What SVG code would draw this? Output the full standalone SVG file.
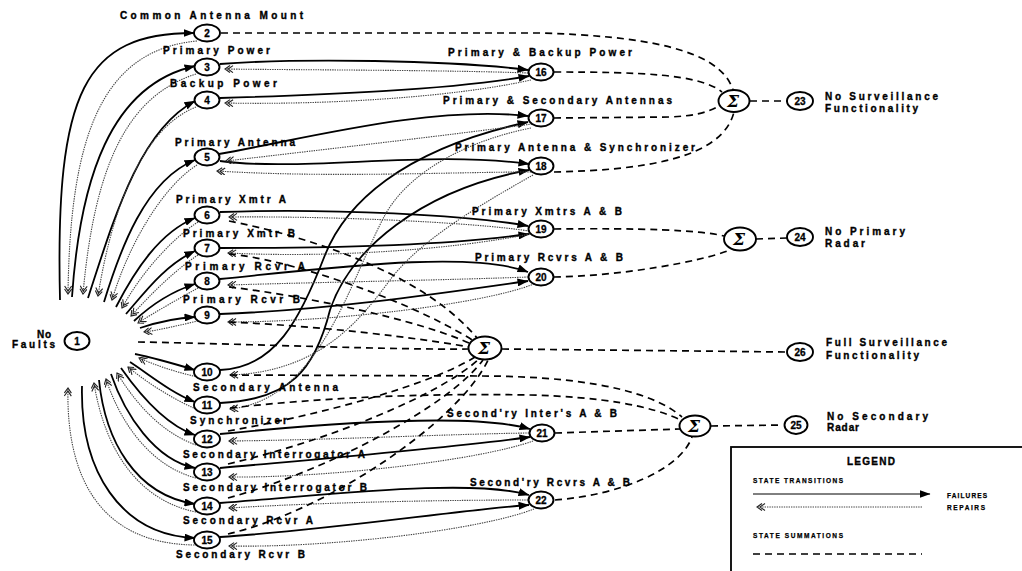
<svg xmlns="http://www.w3.org/2000/svg" width="1022" height="571" viewBox="0 0 1022 571">
  <style>
    .f { fill: none; stroke: #000; stroke-width: 1.8; marker-end: url(#fail); }
    .r { fill: none; stroke: #444; stroke-width: 1.1; stroke-dasharray: 1.4 1; marker-end: url(#repair); }
    .s { fill: none; stroke: #000; stroke-width: 1.7; stroke-dasharray: 7 5; }
    .node ellipse { fill: #fff; stroke: #000; stroke-width: 1.9; }
    .num { font-family: "Liberation Sans", Arial, sans-serif; font-weight: bold; font-size: 10px; text-anchor: middle; stroke: #000; stroke-width: 0.3; }
    .lbl { font-family: "Liberation Sans", Arial, sans-serif; font-weight: bold; font-size: 10px; stroke: #000; stroke-width: 0.35; }
    .sig { font-family: "DejaVu Serif", serif; font-weight: bold; font-style: italic; font-size: 17px; text-anchor: middle; }
    .leg { font-family: "Liberation Sans", Arial, sans-serif; font-weight: bold; font-size: 6.5px; stroke: #000; stroke-width: 0.25; }
  </style>
  <defs>
    <marker id="fail" markerUnits="userSpaceOnUse" markerWidth="11" markerHeight="8" refX="10.5" refY="4" orient="auto" viewBox="0 0 11 8">
      <path d="M0,0 L11,4 L0,8 Z" fill="#000"/>
    </marker>
    <marker id="repair" markerUnits="userSpaceOnUse" markerWidth="10" markerHeight="8" refX="9" refY="4" orient="auto" viewBox="0 0 10 8">
      <path d="M4,0.5 L9,4 L4,7.5 M1,0.5 L6,4 L1,7.5" fill="none" stroke="#222" stroke-width="1.1"/>
    </marker>
  </defs>
  <rect width="1022" height="571" fill="#fff"/>

  <!-- connectors: failures (solid), repairs (dotted), state summations (dashed) -->
  <g id="connectors">
    <g id="failures">
      <path class="f" d="M60,300 C55,90 85,33 194,33"/>
      <path class="f" d="M72,297 C80,180 110,85 195,66"/>
      <path class="f" d="M88,298 C115,215 140,130 195,101"/>
      <path class="f" d="M104,302 C120,250 145,180 195,160"/>
      <path class="f" d="M116,307 C135,270 160,232 195,218"/>
      <path class="f" d="M126,314 C145,292 165,265 195,251"/>
      <path class="f" d="M134,321 C150,306 170,292 195,284"/>
      <path class="f" d="M140,328 C155,323 175,318 195,317"/>
      <path class="f" d="M135,354 C155,358 175,364 195,370"/>
      <path class="f" d="M130,362 C150,375 170,392 195,402"/>
      <path class="f" d="M121,368 C140,395 165,425 195,435"/>
      <path class="f" d="M111,374 C125,415 155,460 195,468"/>
      <path class="f" d="M99,380 C105,440 135,495 195,504"/>
      <path class="f" d="M82,386 C80,470 120,535 195,538"/>

      <path class="f" d="M220,64 C300,58 450,60 528,70"/>
      <path class="f" d="M220,98 C320,95 450,90 529,76"/>
      <path class="f" d="M219,154 C300,140 430,105 528,116"/>
      <path class="f" d="M220,370 C275,368 300,320 325,255 C345,205 400,150 528,122"/>
      <path class="f" d="M220,161 C300,172 430,150 529,164"/>
      <path class="f" d="M220,403 C290,400 315,370 330,310 C350,250 420,190 529,170"/>
      <path class="f" d="M220,212 C330,208 470,215 528,226"/>
      <path class="f" d="M220,248 C350,248 450,245 529,234"/>
      <path class="f" d="M220,279 C330,268 470,250 528,272"/>
      <path class="f" d="M220,314 C330,310 450,292 528,281"/>
      <path class="f" d="M220,434 C320,424 470,412 530,429"/>
      <path class="f" d="M220,468 C330,458 450,448 530,437"/>
      <path class="f" d="M220,503 C330,495 470,478 529,495"/>
      <path class="f" d="M220,537 C330,530 460,510 529,505"/>
    </g>
    <g id="repairs">
      <path class="r" d="M197,41 C100,50 70,140 68,294"/>
      <path class="r" d="M196,74 C130,95 95,160 83,294"/>
      <path class="r" d="M196,107 C150,125 115,190 98,296"/>
      <path class="r" d="M197,165 C165,185 130,240 112,300"/>
      <path class="r" d="M198,222 C170,240 140,275 122,308"/>
      <path class="r" d="M198,255 C175,270 150,295 131,316"/>
      <path class="r" d="M198,288 C180,298 155,312 138,323"/>
      <path class="r" d="M198,321 C180,325 160,330 144,332"/>
      <path class="r" d="M198,377 C175,372 155,365 139,358"/>
      <path class="r" d="M198,410 C175,400 150,385 128,367"/>
      <path class="r" d="M196,445 C160,432 135,402 117,373"/>
      <path class="r" d="M196,478 C150,466 120,422 106,379"/>
      <path class="r" d="M196,512 C140,501 105,452 94,383"/>
      <path class="r" d="M197,545 C95,545 66,470 68,388"/>

      <path class="r" d="M528,73 C450,70 300,70 225,69"/>
      <path class="r" d="M531,80 C450,98 320,105 225,103"/>
      <path class="r" d="M532,124 C450,135 320,150 226,161"/>
      <path class="r" d="M531,172 C450,172 330,178 217,171"/>
      <path class="r" d="M531,128 C470,140 410,170 385,215 C350,280 320,400 230,409"/>
      <path class="r" d="M533,175 C480,205 420,240 390,280 C360,320 320,372 230,375"/>
      <path class="r" d="M529,231 C470,222 330,216 229,217"/>
      <path class="r" d="M530,234 C450,250 330,258 228,253"/>
      <path class="r" d="M528,277 C450,280 330,282 228,285"/>
      <path class="r" d="M534,284 C480,305 330,322 228,322"/>
      <path class="r" d="M529,433 C450,434 330,440 229,441"/>
      <path class="r" d="M533,441 C480,460 330,478 229,477"/>
      <path class="r" d="M528,500 C450,500 330,502 229,508"/>
      <path class="r" d="M534,509 C480,530 330,548 229,546"/>
    </g>
    <g id="summations">
      <path class="s" d="M221,33 L540,33 C640,36 720,48 733,90"/>
      <path class="s" d="M554,72 C640,72 700,74 722,92"/>
      <path class="s" d="M554,118 L670,117 C690,116 705,114 719,106"/>
      <path class="s" d="M554,172 C640,170 722,160 734,112"/>
      <path class="s" d="M750,101 L787,101"/>
      <path class="s" d="M554,229 C640,228 700,230 724,236"/>
      <path class="s" d="M554,277 C620,276 700,262 730,250"/>
      <path class="s" d="M756,239 L787,238"/>
      <path class="s" d="M138,342 C250,344 400,350 468,349"/>
      <path class="s" d="M229,221 C300,235 420,270 477,338"/>
      <path class="s" d="M229,254 C280,258 400,295 474,341"/>
      <path class="s" d="M229,287 C300,295 420,320 471,344"/>
      <path class="s" d="M229,322 C320,326 420,338 469,347"/>
      <path class="s" d="M228,431 C320,415 430,385 475,357"/>
      <path class="s" d="M228,464 C330,440 440,395 479,359"/>
      <path class="s" d="M228,498 C330,470 450,405 483,360"/>
      <path class="s" d="M228,534 C330,510 460,420 488,360"/>
      <path class="s" d="M502,349 L787,352"/>
      <path class="s" d="M230,375 L480,376 C560,376 645,385 682,417"/>
      <path class="s" d="M230,408 C320,398 420,393 530,395 C600,397 650,405 683,421"/>
      <path class="s" d="M555,433 L680,429"/>
      <path class="s" d="M555,500 C620,495 680,470 692,437"/>
      <path class="s" d="M711,426 L783,425"/>
    </g>
  </g>

  <!-- state nodes -->
  <g id="node-1" class="node"><ellipse cx="77" cy="341" rx="12.5" ry="9"/><text class="num" x="77" y="345">1</text>
    <text class="lbl" x="37" y="338" textLength="14" lengthAdjust="spacing">No</text>
    <text class="lbl" x="12" y="348" textLength="43" lengthAdjust="spacing">Faults</text></g>
  <g id="node-2" class="node"><ellipse cx="207" cy="33" rx="13" ry="8.5"/><text class="num" x="207" y="37">2</text>
    <text class="lbl" x="120" y="19" textLength="183" lengthAdjust="spacing">Common Antenna Mount</text></g>
  <g id="node-3" class="node"><ellipse cx="207" cy="67" rx="12.5" ry="8.5"/><text class="num" x="207" y="71">3</text>
    <text class="lbl" x="163" y="54" textLength="107" lengthAdjust="spacing">Primary Power</text></g>
  <g id="node-4" class="node"><ellipse cx="207" cy="100" rx="12.5" ry="8.5"/><text class="num" x="207" y="104">4</text>
    <text class="lbl" x="170" y="87" textLength="107" lengthAdjust="spacing">Backup Power</text></g>
  <g id="node-5" class="node"><ellipse cx="207" cy="157" rx="12.5" ry="8.5"/><text class="num" x="207" y="161">5</text>
    <text class="lbl" x="175" y="146" textLength="120" lengthAdjust="spacing">Primary Antenna</text></g>
  <g id="node-6" class="node"><ellipse cx="207" cy="215" rx="12.5" ry="8.5"/><text class="num" x="207" y="219">6</text>
    <text class="lbl" x="176" y="203" textLength="110" lengthAdjust="spacing">Primary Xmtr A</text></g>
  <g id="node-7" class="node"><ellipse cx="207" cy="248" rx="12.5" ry="8.5"/><text class="num" x="207" y="252">7</text>
    <text class="lbl" x="183" y="237" textLength="112" lengthAdjust="spacing">Primary Xmtr B</text></g>
  <g id="node-8" class="node"><ellipse cx="207" cy="281" rx="12.5" ry="8.5"/><text class="num" x="207" y="285">8</text>
    <text class="lbl" x="185" y="270" textLength="120" lengthAdjust="spacing">Primary Rcvr A</text></g>
  <g id="node-9" class="node"><ellipse cx="207" cy="315" rx="12.5" ry="8.5"/><text class="num" x="207" y="319">9</text>
    <text class="lbl" x="183" y="303" textLength="117" lengthAdjust="spacing">Primary Rcvr B</text></g>
  <g id="node-10" class="node"><ellipse cx="207" cy="372" rx="13" ry="8.5"/><text class="num" x="207" y="376">10</text>
    <text class="lbl" x="193" y="391" textLength="145" lengthAdjust="spacing">Secondary Antenna</text></g>
  <g id="node-11" class="node"><ellipse cx="207" cy="405" rx="13" ry="8.5"/><text class="num" x="207" y="409">11</text>
    <text class="lbl" x="190" y="424" textLength="97" lengthAdjust="spacing">Synchronizer</text></g>
  <g id="node-12" class="node"><ellipse cx="207" cy="439" rx="13" ry="8.5"/><text class="num" x="207" y="443">12</text>
    <text class="lbl" x="183" y="458" textLength="182" lengthAdjust="spacing">Secondary Interrogator A</text></g>
  <g id="node-13" class="node"><ellipse cx="207" cy="472" rx="13" ry="8.5"/><text class="num" x="207" y="476">13</text>
    <text class="lbl" x="183" y="491" textLength="184" lengthAdjust="spacing">Secondary Interrogator B</text></g>
  <g id="node-14" class="node"><ellipse cx="207" cy="506" rx="13" ry="8.5"/><text class="num" x="207" y="510">14</text>
    <text class="lbl" x="183" y="524" textLength="130" lengthAdjust="spacing">Secondary Rcvr A</text></g>
  <g id="node-15" class="node"><ellipse cx="207" cy="540" rx="13" ry="8.5"/><text class="num" x="207" y="544">15</text>
    <text class="lbl" x="176" y="558" textLength="129" lengthAdjust="spacing">Secondary Rcvr B</text></g>

  <g id="node-16" class="node"><ellipse cx="541" cy="72" rx="12.5" ry="8.5"/><text class="num" x="541" y="76">16</text>
    <text class="lbl" x="448" y="56" textLength="184" lengthAdjust="spacing">Primary &amp; Backup Power</text></g>
  <g id="node-17" class="node"><ellipse cx="541" cy="118" rx="12.5" ry="8.5"/><text class="num" x="541" y="122">17</text>
    <text class="lbl" x="443" y="104" textLength="229" lengthAdjust="spacing">Primary &amp; Secondary Antennas</text></g>
  <g id="node-18" class="node"><ellipse cx="541" cy="166" rx="12.5" ry="8.5"/><text class="num" x="541" y="170">18</text>
    <text class="lbl" x="455" y="151" textLength="240" lengthAdjust="spacing">Primary Antenna &amp; Synchronizer</text></g>
  <g id="node-19" class="node"><ellipse cx="541" cy="229" rx="12.5" ry="8.5"/><text class="num" x="541" y="233">19</text>
    <text class="lbl" x="472" y="215" textLength="150" lengthAdjust="spacing">Primary Xmtrs A &amp; B</text></g>
  <g id="node-20" class="node"><ellipse cx="541" cy="277" rx="12.5" ry="8.5"/><text class="num" x="541" y="281">20</text>
    <text class="lbl" x="475" y="261" textLength="148" lengthAdjust="spacing">Primary Rcvrs A &amp; B</text></g>
  <g id="node-21" class="node"><ellipse cx="542" cy="433" rx="12.5" ry="8.5"/><text class="num" x="542" y="437">21</text>
    <text class="lbl" x="447" y="417" textLength="170" lengthAdjust="spacing">Second'ry Inter's A &amp; B</text></g>
  <g id="node-22" class="node"><ellipse cx="541" cy="500" rx="12.5" ry="8.5"/><text class="num" x="541" y="504">22</text>
    <text class="lbl" x="470" y="486" textLength="160" lengthAdjust="spacing">Second'ry Rcvrs A &amp; B</text></g>

  <!-- summation nodes -->
  <g id="sum-surveillance" class="node"><ellipse cx="734" cy="101" rx="15.5" ry="11"/><text class="sig" x="733" y="107">Σ</text></g>
  <g id="sum-primary" class="node"><ellipse cx="740" cy="239" rx="16" ry="11.5"/><text class="sig" x="739" y="245">Σ</text></g>
  <g id="sum-full" class="node"><ellipse cx="485" cy="348" rx="16.5" ry="11.5"/><text class="sig" x="484" y="354">Σ</text></g>
  <g id="sum-secondary" class="node"><ellipse cx="695" cy="426" rx="15.5" ry="10.5"/><text class="sig" x="694" y="432">Σ</text></g>

  <!-- outcome states -->
  <g id="node-23" class="node"><ellipse cx="800" cy="101" rx="13" ry="9"/><text class="num" x="800" y="105">23</text>
    <text class="lbl" x="825" y="100" textLength="113" lengthAdjust="spacing">No Surveillance</text>
    <text class="lbl" x="825" y="112" textLength="93" lengthAdjust="spacing">Functionality</text></g>
  <g id="node-24" class="node"><ellipse cx="800" cy="237" rx="13" ry="9"/><text class="num" x="800" y="241">24</text>
    <text class="lbl" x="825" y="235" textLength="80" lengthAdjust="spacing">No Primary</text>
    <text class="lbl" x="825" y="247" textLength="40" lengthAdjust="spacing">Radar</text></g>
  <g id="node-26" class="node"><ellipse cx="800" cy="352" rx="13" ry="9"/><text class="num" x="800" y="356">26</text>
    <text class="lbl" x="826" y="346" textLength="121" lengthAdjust="spacing">Full Surveillance</text>
    <text class="lbl" x="826" y="359" textLength="93" lengthAdjust="spacing">Functionality</text></g>
  <g id="node-25" class="node"><ellipse cx="796" cy="425" rx="11.5" ry="9"/><text class="num" x="796" y="429">25</text>
    <text class="lbl" x="827" y="420" textLength="101" lengthAdjust="spacing">No Secondary</text>
    <text class="lbl" x="827" y="431" textLength="32" lengthAdjust="spacing">Radar</text></g>

  <!-- legend -->
  <g id="legend">
    <rect x="731" y="447" width="300" height="140" fill="#fff" stroke="#000" stroke-width="1.8"/>
    <text class="lbl" x="847" y="465" font-size="9" textLength="48" lengthAdjust="spacing">LEGEND</text>
    <text class="leg" x="753" y="483" textLength="90" lengthAdjust="spacing">STATE TRANSITIONS</text>
    <path d="M753,494 L930,494" fill="none" stroke="#000" stroke-width="1" marker-end="url(#fail)"/>
    <text class="leg" x="947" y="498" textLength="40" lengthAdjust="spacing">FAILURES</text>
    <path d="M922,507 L757,507" fill="none" stroke="#444" stroke-width="1" stroke-dasharray="1.4 1" marker-end="url(#repair)"/>
    <text class="leg" x="947" y="510" textLength="38" lengthAdjust="spacing">REPAIRS</text>
    <text class="leg" x="753" y="538" textLength="90" lengthAdjust="spacing">STATE SUMMATIONS</text>
    <path d="M753,554 L922,554" fill="none" stroke="#000" stroke-width="1.4" stroke-dasharray="7 5"/>
  </g>
</svg>
